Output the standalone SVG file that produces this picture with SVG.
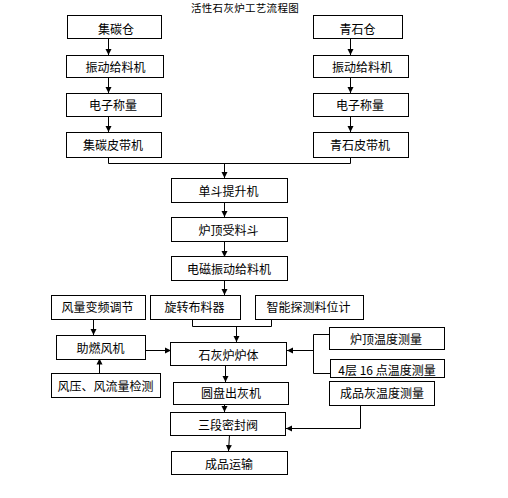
<svg xmlns="http://www.w3.org/2000/svg" width="508" height="498" viewBox="0 0 508 498">
<style>
.box{fill:#fff;stroke:#000;stroke-width:1}
.t{font-family:"Noto Sans CJK SC","Noto Sans",sans-serif;font-size:12px;fill:#000;text-anchor:middle;dominant-baseline:central}
.title{font-family:"Noto Sans CJK SC","Noto Sans",sans-serif;font-size:10.5px;fill:#000;text-anchor:middle;dominant-baseline:central;letter-spacing:0.3px}
.c{fill:none;stroke:#000;stroke-width:1}
</style>
<defs>
<marker id="ah" markerUnits="userSpaceOnUse" markerWidth="7" markerHeight="7" refX="6" refY="3.5" orient="auto">
<path d="M0,0.5 L6,3.5 L0,6.5 Z" fill="#000"/>
</marker>
</defs>
<rect width="508" height="498" fill="#fff"/>
<text class="title" x="245" y="7">活性石灰炉工艺流程图</text>

<g id="connectors">
<path class="c" d="M108.5,38 V55" marker-end="url(#ah)"/>
<path class="c" d="M108.5,77 V93" marker-end="url(#ah)"/>
<path class="c" d="M108.5,116 V132" marker-end="url(#ah)"/>
<path class="c" d="M350.5,38 V55" marker-end="url(#ah)"/>
<path class="c" d="M350.5,77 V93" marker-end="url(#ah)"/>
<path class="c" d="M350.5,116 V132" marker-end="url(#ah)"/>
<path class="c" d="M108.5,157 V163.5 H350.5 V157"/>
<path class="c" d="M224.5,163.5 V178" marker-end="url(#ah)"/>
<path class="c" d="M224.5,202 V217" marker-end="url(#ah)"/>
<path class="c" d="M224.5,241 V257" marker-end="url(#ah)"/>
<path class="c" d="M224.5,280 V295" marker-end="url(#ah)"/>
<path class="c" d="M192.5,319 V326.5 H271.5 V319"/>
<path class="c" d="M236.5,326.5 V342" marker-end="url(#ah)"/>
<path class="c" d="M93.5,319 V335" marker-end="url(#ah)"/>
<path class="c" d="M99.5,373 V358.5" marker-end="url(#ah)"/>
<path class="c" d="M145.5,350.5 H171" marker-end="url(#ah)"/>
<path class="c" d="M329,334.5 H313.5 V373.5 H330"/>
<path class="c" d="M313.5,350.5 H287" marker-end="url(#ah)"/>
<path class="c" d="M225.5,365 V382" marker-end="url(#ah)"/>
<path class="c" d="M224.5,404 V412" marker-end="url(#ah)"/>
<path class="c" d="M360.5,406 V428.5 H286" marker-end="url(#ah)"/>
<path class="c" d="M229.5,435 L228.5,451" marker-end="url(#ah)"/>
</g>

<g id="n1"><rect class="box" x="67.5" y="15.5" width="94" height="23"/><text class="t" x="116" y="28.5">集碳仓</text></g>
<g id="n2"><rect class="box" x="66.5" y="55.5" width="97" height="22"/><text class="t" x="115.5" y="66">振动给料机</text></g>
<g id="n3"><rect class="box" x="66.5" y="93.5" width="95" height="23"/><text class="t" x="113" y="104.5">电子称量</text></g>
<g id="n4"><rect class="box" x="66.5" y="132.5" width="95" height="25"/><text class="t" x="113" y="144">集碳皮带机</text></g>

<g id="n5"><rect class="box" x="313.5" y="15.5" width="89" height="23"/><text class="t" x="357.5" y="28.5">青石仓</text></g>
<g id="n6"><rect class="box" x="313.5" y="55.5" width="95" height="22"/><text class="t" x="362" y="66">振动给料机</text></g>
<g id="n7"><rect class="box" x="313.5" y="93.5" width="95" height="23"/><text class="t" x="360" y="104.5">电子称量</text></g>
<g id="n8"><rect class="box" x="313.5" y="132.5" width="95" height="25"/><text class="t" x="360" y="144">青石皮带机</text></g>

<g id="n9"><rect class="box" x="171.5" y="178.5" width="116" height="24"/><text class="t" x="228.5" y="190">单斗提升机</text></g>
<g id="n10"><rect class="box" x="171.5" y="217.5" width="116" height="24"/><text class="t" x="228.5" y="229">炉顶受料斗</text></g>
<g id="n11"><rect class="box" x="171.5" y="256.5" width="116" height="24"/><text class="t" x="229" y="268">电磁振动给料机</text></g>

<g id="n12"><rect class="box" x="51.5" y="295.5" width="94" height="24"/><text class="t" x="97.5" y="306.5">风量变频调节</text></g>
<g id="n13"><rect class="box" x="150.5" y="295.5" width="90" height="24"/><text class="t" x="194.5" y="306.5">旋转布料器</text></g>
<g id="n14"><rect class="box" x="255.5" y="295.5" width="108" height="24"/><text class="t" x="308.5" y="306.5">智能探测料位计</text></g>

<g id="n15"><rect class="box" x="56.5" y="335.5" width="89" height="24"/><text class="t" x="100.5" y="347">助燃风机</text></g>
<g id="n16"><rect class="box" x="170.5" y="342.5" width="116" height="23"/><text class="t" x="228.5" y="354">石灰炉炉体</text></g>
<g id="n17"><rect class="box" x="329.5" y="327.5" width="115" height="22"/><text class="t" x="386" y="338">炉顶温度测量</text></g>
<g id="n18"><rect class="box" x="330.5" y="359.5" width="114" height="18"/><text class="t" x="387" y="369">4层 16 点温度测量</text></g>

<g id="n19"><rect class="box" x="51.5" y="373.5" width="109" height="24"/><text class="t" x="105.5" y="385">风压、风流量检测</text></g>
<g id="n20"><rect class="box" x="173.5" y="382.5" width="115" height="22"/><text class="t" x="231" y="392.5">圆盘出灰机</text></g>
<g id="n21"><rect class="box" x="329.5" y="381.5" width="105" height="24"/><text class="t" x="382" y="392.5">成品灰温度测量</text></g>

<g id="n22"><rect class="box" x="170.5" y="412.5" width="115" height="23"/><text class="t" x="228" y="424">三段密封阀</text></g>
<g id="n23"><rect class="box" x="171.5" y="451.5" width="116" height="23"/><text class="t" x="229" y="463">成品运输</text></g>
</svg>
